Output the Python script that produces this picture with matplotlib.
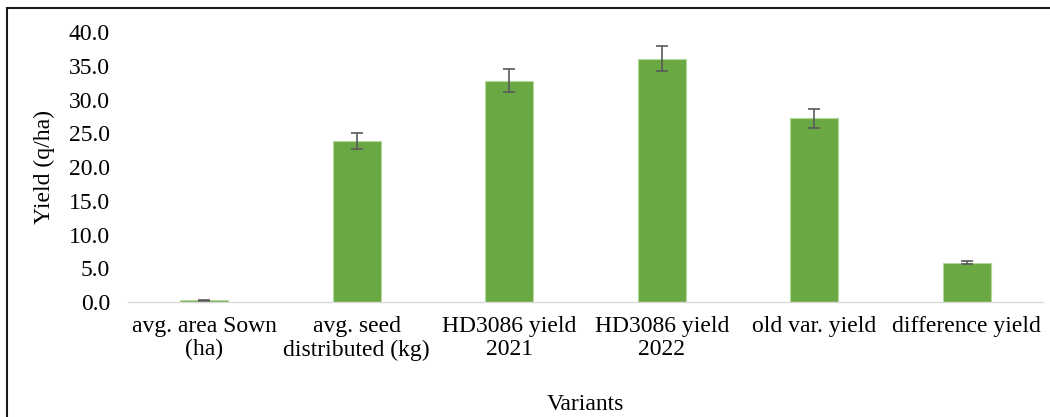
import matplotlib
matplotlib.use("Agg")
import matplotlib.pyplot as plt
from matplotlib.patches import Rectangle

categories = ["avg. area Sown\n(ha)", "avg. seed\ndistributed (kg)", "HD3086 yield\n2021",
              "HD3086 yield\n2022", "old var. yield", "difference yield"]
values = [0.25, 23.9, 32.8, 36.05, 27.2, 5.85]
errors = [0.1, 1.2, 1.7, 1.85, 1.35, 0.27]
yticks = [0, 5, 10, 15, 20, 25, 30, 35, 40]

plt.rcParams['font.family'] = ['Liberation Serif', 'DejaVu Serif']

fig = plt.figure(figsize=(10.5, 4.17), dpi=100)
ax = fig.add_axes([128/1050, 1-302/417, (1043-128)/1050, (302-32)/417])

x = list(range(len(categories)))
ax.bar(x, values, width=0.315, color='#6aa843', edgecolor='#b5d99c', linewidth=0.8,
       yerr=errors, error_kw=dict(ecolor='#5a5a5a', elinewidth=1.2, capsize=4.5, capthick=1.2),
       zorder=2)

ax.set_xlim(-0.5, len(categories) - 0.5)
ax.set_ylim(0, 40)
ax.set_yticks(yticks)
ax.set_yticklabels([f"{v:.1f}" for v in yticks], fontsize=17)
ax.set_xticks(x)
ax.set_xticklabels(categories, fontsize=17, linespacing=1.15)
ax.tick_params(axis='y', length=0, pad=13)
ax.tick_params(axis='x', length=0, pad=10)
for s in ['top', 'right', 'left']:
    ax.spines[s].set_visible(False)
ax.spines['bottom'].set_color('#d9d9d9')
ax.spines['bottom'].set_linewidth(1.0)

ax.set_ylabel("Yield (q/ha)", fontsize=17, labelpad=10)
ax.set_xlabel("Variants", fontsize=17, labelpad=24)

border = Rectangle((7/1050, -0.2), 1.2, 1.2 - 8/417, transform=fig.transFigure,
                   fill=False, edgecolor='#1a1a1a', linewidth=1.5, clip_on=False)
fig.patches.append(border)

fig.savefig("out.png", dpi=100)
